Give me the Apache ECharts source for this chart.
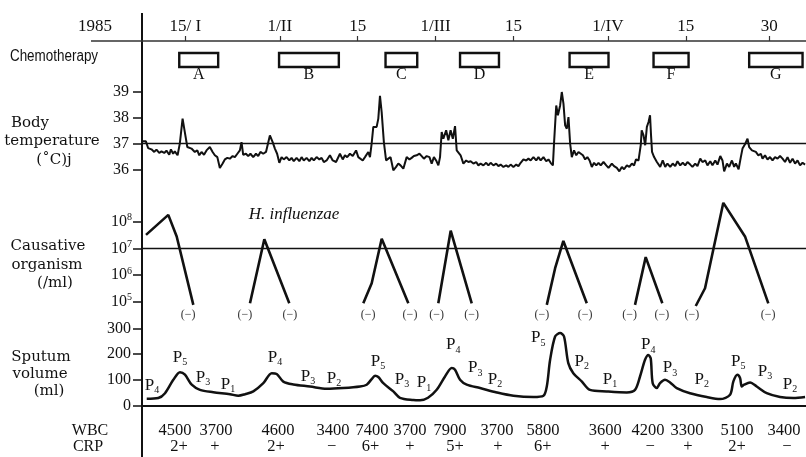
<!DOCTYPE html>
<html><head><meta charset="utf-8">
<script src="https://cdn.jsdelivr.net/npm/echarts@6/dist/echarts.min.js"></script>
<style>html,body{margin:0;padding:0;background:#fff}#c{width:806px;height:457px}</style>
</head><body><div id="c"></div>
<script>
// ---------------- DATA (x = day of 1985) ----------------
const dateTickDays = [15, 32, 46, 60, 74, 91, 105, 120];
const dateTickLabels = ['15/ I', '1/II', '15', '1/III', '15', '1/IV', '15', '30'];

const chemoCourses = ['A', 'B', 'C', 'D', 'E', 'F', 'G'];
const chemoStart = [13.9, 31.85, 51.0, 64.4, 84.1, 99.2, 116.4];
const chemoEnd   = [20.9, 42.6, 56.7, 71.4, 91.1, 105.5, 126.0];

const tempTicks = [36, 37, 38, 39];
const temperatureReadings = [
[7.3,37.09],[7.9,37.09],[8.3,36.83],[8.9,36.78],[9.4,36.68],[9.8,36.77],[10.3,36.64],[10.7,36.70],[11.2,36.64],[11.6,36.73],
[12.1,36.57],[12.4,36.78],[12.8,36.61],[13.1,36.70],[13.6,36.55],[14.0,37.0],[14.5,37.97],[14.9,37.45],[15.35,36.87],[15.7,36.94],
[16.1,36.81],[16.4,36.87],[16.7,36.68],[17.15,36.74],[17.5,36.55],[17.9,36.68],[18.35,36.57],[18.8,36.74],[19.4,36.87],[19.9,36.68],
[20.3,36.55],[20.75,36.48],[21.2,36.06],[21.7,36.23],[22.1,36.39],[22.55,36.45],[23.0,36.42],[23.5,36.52],[23.9,36.48],[24.35,36.61],
[24.8,36.74],[25.1,37.06],[25.4,36.57],[25.9,36.61],[26.3,36.52],[26.7,36.61],[27.2,36.48],[27.7,36.61],[28.1,36.52],[28.5,36.68],
[29.0,36.61],[29.5,36.68],[30.2,37.32],[30.7,37.06],[31.1,36.81],[31.5,36.61],[31.9,36.26],[32.3,36.48],[32.7,36.39],[33.2,36.48],
[33.7,36.35],[34.1,36.45],[34.5,36.32],[35.0,36.45],[35.5,36.32],[35.9,36.48],[36.3,36.35],[36.8,36.45],[37.3,36.32],[37.7,36.45],
[38.1,36.35],[38.6,36.48],[39.1,36.39],[39.5,36.45],[39.9,36.29],[40.4,36.35],[41.0,36.55],[41.5,36.35],[42.1,36.29],[42.8,36.61],
[43.3,36.39],[43.7,36.55],[44.1,36.48],[44.6,36.61],[45.1,36.52],[45.7,36.74],[46.1,36.48],
[46.4,36.42],[46.9,36.35],[47.3,36.48],[47.6,36.42],[47.9,36.68],[48.2,36.48],[48.5,37.0],[48.8,37.65],[49.4,37.65],[49.7,37.97],
[50.0,38.85],[50.3,38.23],[50.7,37.06],[51.1,36.35],[51.5,36.42],[51.9,36.48],[52.4,35.97],[52.9,36.10],[53.3,36.23],[53.7,36.16],
[54.2,36.03],[54.8,36.48],[55.3,36.39],[55.7,36.45],[56.1,36.52],[56.6,36.55],[57.1,36.61],[57.5,36.52],[57.9,36.42],[58.4,36.52],
[58.9,36.48],[59.3,36.23],[59.7,36.48],[60.1,36.35],[60.5,36.16],[60.8,36.48],[61.1,37.45],[61.4,37.19],[61.9,37.52],[62.3,37.13],
[62.7,37.52],[63.1,37.19],[63.5,37.68],[63.8,36.74],[64.1,36.68],[64.5,36.55],[65.0,36.23],[65.5,36.35],[65.9,36.29],[66.3,36.32],
[66.8,36.23],[67.3,36.29],[67.7,36.16],[68.1,36.23],[68.6,36.16],[69.1,36.26],[69.5,36.16],[69.9,36.26],[70.4,36.16],[70.9,36.23],
[71.3,36.13],[71.7,36.19],[72.2,36.10],[72.7,36.16],[73.1,36.10],[73.5,36.19],[74.0,36.10],[74.5,36.19],[74.9,36.13],[75.3,36.26],
[75.8,36.39],[76.3,36.35],[76.7,36.42],[77.1,36.35],[77.6,36.48],[78.1,36.35],[78.5,36.48],[78.9,36.35],[79.4,36.48],[79.9,36.32],
[80.3,36.39],[80.7,36.26],[81.1,36.16],[81.3,37.0],[81.7,38.48],[82.0,38.10],[82.4,38.48],[82.7,39.0],[83.0,38.55],[83.3,37.71],
[83.6,37.58],[83.9,38.03],[84.2,37.0],[84.5,36.48],[84.9,36.74],[85.3,36.55],[85.7,36.68],
[86.5,36.55],[86.9,36.39],[87.3,36.48],[87.7,36.35],[88.1,36.10],[88.5,36.26],[88.9,36.16],[89.3,36.26],[89.7,36.16],[90.2,36.29],
[90.7,36.16],[91.1,36.06],[91.7,36.23],[92.1,36.13],[92.6,36.06],[93.05,35.93],[93.5,36.10],[93.9,36.01],[94.4,36.16],[94.85,36.10],
[95.3,36.23],[95.7,36.16],[96.05,36.39],[96.5,36.35],[96.65,36.42],[96.9,36.94],[97.07,37.52],[97.4,37.32],[97.7,36.94],[98.0,37.65],
[98.3,37.84],[98.57,38.10],[98.75,37.32],[98.93,36.68],[99.3,36.48],[99.8,36.29],[100.4,36.10],[100.85,36.35],[101.3,36.10],[101.7,36.23],
[102.2,36.10],[102.65,36.23],[103.1,36.13],[103.5,36.32],[104.0,36.16],[104.45,36.26],[104.9,36.16],[105.3,36.29],[105.8,36.19],[106.2,36.10],
[106.7,36.23],[107.1,36.13],[107.6,36.42],[108.0,36.29],[108.5,36.35],[108.9,36.16],[109.4,36.32],[109.8,36.16],[110.3,36.35],[110.7,36.19],
[111.2,36.52],[111.6,36.35],[111.9,35.93],[112.4,36.23],[112.8,36.10],[113.3,36.35],[113.7,36.10],[114.0,36.23],[114.5,36.01],[114.9,36.48],
[115.2,36.81],[115.7,37.0],[116.1,37.19],[116.4,36.87],[116.9,36.74],[117.2,36.81],[117.6,36.68],[118.05,36.55],[118.5,36.61],[118.8,36.42],
[119.25,36.55],[119.7,36.39],[120.15,36.48],[120.6,36.35],[121.05,36.48],[121.5,36.42],[121.95,36.52],[122.4,36.42],[122.85,36.29],[123.3,36.48],
[123.75,36.26],[124.2,36.42],[124.65,36.23],[125.1,36.35],[125.55,36.16],[126.0,36.26],[126.45,36.19]
];

// H. influenzae counts (/ml), one array per episode
const organismEpisodes = [
  [[7.92, 3.2e7], [11.93, 1.8e8], [13.44, 2.8e7], [16.43, 7.6e4]],
  [[26.62, 8.7e4], [29.2, 2.2e7], [33.69, 8.7e4]],
  [[47.0, 8.7e4], [48.51, 4.9e5], [50.31, 2.3e7], [55.1, 8.7e4]],
  [[60.49, 8.7e4], [62.72, 4.6e7], [66.5, 8.7e4]],
  [[80.0, 7.6e4], [81.5, 1.8e6], [82.98, 1.9e7], [87.19, 8.7e4]],
  [[95.87, 7.6e4], [97.79, 4.7e6], [100.78, 8.7e4]],
  [[106.79, 6.9e4], [108.46, 3.2e5], [111.75, 5.1e8], [115.65, 2.8e7], [119.84, 8.7e4]]
];
const organismTicks = [1e5, 1e6, 1e7, 1e8];
const negativeCultureDays = [15.5, 25.7, 33.8, 47.85, 55.4, 60.2, 66.5, 79.1, 86.9, 94.9, 100.7, 106.1, 119.8];
const negativeCultureLevel = 3.2e4;

const sputumVolume = [
[8.05,26],[10.13,29],[11.34,48],[12.83,100],[14.03,130],[14.93,120],[16.14,81],[17.63,61],[20.02,52],[23.03,44],
[24.52,38],[25.73,44],[27.22,55],[29.02,87],[30.53,126],[31.43,123],[32.61,93],[34.41,82],[37.42,74],[40.42,65],
[43.41,68],[46.41,74],[47.61,81],[48.51,103],[49.11,116],[49.7,111],[50.6,87],[52.4,55],[53.6,30],[56.0,21],
[57.2,20],[58.64,30],[60.2,61],[61.7,113],[62.9,146],[63.5,139],[64.4,100],[65.6,81],[68.0,68],[71.0,51],
[74.0,38],[77.6,33],[79.4,38],[80.0,74],[80.6,178],[81.5,269],[82.4,282],[83.1,269],[83.87,165],[84.77,126],
[86.28,94],[87.77,61],[90.78,55],[94.38,51],[95.87,61],[96.77,113],[97.67,178],[98.26,197],[98.69,184],[99.05,87],
[99.77,68],[100.37,87],[101.27,100],[102.17,90],[103.37,68],[105.76,48],[108.77,33],[111.16,25],[112.96,42],[113.56,94],
[114.28,120],[114.76,107],[115.06,74],[115.48,81],[116.56,90],[117.76,74],[119.56,48],[121.96,33],[124.35,29],[126.45,33]
];
const sputumTicks = [0, 100, 200, 300];
// sputum grade annotations (P1-P5): anchor day, anchor ml, grade
const sputumGradeDays   = [9.0, 14.03, 18.17, 22.67, 31.12, 37.06, 41.73, 49.65, 53.96, 57.92, 63.19, 67.15, 70.69, 78.48, 86.28, 91.37, 98.26, 102.17, 107.87, 114.45, 119.26, 123.75];
const sputumGradeLevels = [77, 186, 108, 81, 186, 112, 104, 170, 100, 88, 236, 146, 100, 263, 171, 100, 236, 146, 100, 171, 132, 81];
const sputumGrades      = [4, 5, 3, 1, 4, 3, 2, 5, 3, 1, 4, 3, 2, 5, 2, 1, 4, 3, 2, 5, 3, 2];

const wbcDays   = [13.13, 20.5, 31.66, 41.55, 48.57, 55.4, 62.6, 71.05, 79.3, 90.5, 98.2, 105.2, 114.2, 122.65];
const wbcCounts = [4500, 3700, 4600, 3400, 7400, 3700, 7900, 3700, 5800, 3600, 4200, 3300, 5100, 3400];
const crpDays   = [13.85, 20.32, 31.3, 41.3, 48.3, 55.4, 63.5, 71.2, 79.3, 90.5, 98.6, 105.4, 114.2, 123.2];
const crpGrades = ['2+', '+', '2+', '−', '6+', '+', '5+', '+', '6+', '+', '−', '+', '2+', '−'];

// ---------------- CHART ----------------
const SERIF = "'Liberation Serif', 'Times New Roman', serif";
const DSERIF = "'DejaVu Serif', serif";
const SANS = "'Liberation Sans', Arial, sans-serif";
const INK = '#111';
const X_MIN = 7.2, X_MAX = 126.62;

const chart = echarts.init(document.getElementById('c'), null, {renderer: 'canvas'});

const gridBase = {left: 142, right: 0, containLabel: false, outerBoundsMode: 'none', show: false};
const grids = [
  Object.assign({top: 41, height: 40}, gridBase),
  Object.assign({top: 92, height: 77.5}, gridBase),
  Object.assign({top: 221.7, height: 80}, gridBase),
  Object.assign({top: 328.5, height: 77}, gridBase),
  Object.assign({top: 431, height: 16}, gridBase)
];

const hiddenX = i => ({type: 'value', gridIndex: i, min: X_MIN, max: X_MAX, show: false});
const xAxes = [
  {type: 'value', gridIndex: 0, position: 'top', min: X_MIN, max: X_MAX,
   axisLine: {show: true, onZero: false, lineStyle: {color: '#333', width: 1.5}},
   axisTick: {show: true, customValues: dateTickDays, length: 5, inside: false, lineStyle: {color: '#333', width: 1.2}},
   axisLabel: {show: true, customValues: dateTickDays, margin: 6, color: INK, fontFamily: SERIF, fontSize: 17,
     formatter: v => { const k = dateTickDays.indexOf(v); return k >= 0 ? dateTickLabels[k] : ''; }},
   splitLine: {show: false}},
  hiddenX(1), hiddenX(2),
  {type: 'value', gridIndex: 3, min: X_MIN, max: X_MAX, position: 'bottom',
   axisLine: {show: true, onZero: true, lineStyle: {color: INK, width: 2}},
   axisTick: {show: false}, axisLabel: {show: false}, splitLine: {show: false}},
  hiddenX(4)
];

const tickAxis = (i, extra) => Object.assign({
  gridIndex: i, axisLine: {show: false},
  axisTick: {show: true, length: 9, lineStyle: {color: INK, width: 1.5}},
  splitLine: {show: false}
}, extra);

const yAxes = [
  {type: 'value', gridIndex: 0, min: 0, max: 1, show: false},
  tickAxis(1, {type: 'value', min: 36, max: 39, interval: 1,
    axisLabel: {margin: 13, color: INK, fontFamily: SERIF, fontSize: 16}}),
  tickAxis(2, {type: 'log', logBase: 10, min: 1e5, max: 1e8,
    axisLabel: {margin: 10, color: INK,
      formatter: v => '{b|10}{s|' + Math.round(Math.log10(v)) + '}',
      rich: {b: {fontFamily: SERIF, fontSize: 16, lineHeight: 18, color: INK},
             s: {fontFamily: SERIF, fontSize: 10, lineHeight: 10, verticalAlign: 'top', color: INK}}}}),
  tickAxis(3, {type: 'value', min: 0, max: 300, interval: 100,
    axisLabel: {margin: 11, color: INK, fontFamily: SERIF, fontSize: 16}}),
  {type: 'value', gridIndex: 4, min: 0, max: 1, show: false}
];

const series = [];

// chemotherapy courses
series.push({
  type: 'custom', xAxisIndex: 0, yAxisIndex: 0, silent: true,
  data: chemoCourses.map((c, i) => [chemoStart[i], chemoEnd[i]]),
  encode: {x: [0, 1]},
  renderItem: (params, api) => {
    const p0 = api.coord([api.value(0), 0.7]);
    const p1 = api.coord([api.value(1), 0.35]);
    const pt = api.coord([(api.value(0) + api.value(1)) / 2, 0.15]);
    return {type: 'group', children: [
      {type: 'rect', shape: {x: p0[0], y: p0[1], width: p1[0] - p0[0], height: p1[1] - p0[1]},
       style: {fill: '#fff', stroke: INK, lineWidth: 2.4}},
      {type: 'text', x: pt[0], y: pt[1],
       style: {text: chemoCourses[params.dataIndex], fill: INK, font: '16px ' + SERIF, align: 'center', verticalAlign: 'middle'}}
    ]};
  }
});

// body temperature
series.push({
  type: 'line', xAxisIndex: 1, yAxisIndex: 1, data: temperatureReadings, symbol: 'none',
  clip: false, silent: true, lineStyle: {color: INK, width: 2},
  markLine: {silent: true, symbol: ['none', 'none'], label: {show: false},
    lineStyle: {color: INK, width: 1.3, type: 'solid'}, data: [{yAxis: 37}]}
});

// causative organism
organismEpisodes.forEach((ep, k) => {
  const s = {type: 'line', xAxisIndex: 2, yAxisIndex: 2, data: ep, symbol: 'none', clip: false, silent: true,
    lineStyle: {color: INK, width: 2.6}};
  if (k === 0) s.markLine = {silent: true, symbol: ['none', 'none'], label: {show: false},
    lineStyle: {color: INK, width: 1.3, type: 'solid'}, data: [{yAxis: 1e7}]};
  series.push(s);
});
series.push({
  type: 'custom', xAxisIndex: 2, yAxisIndex: 2, silent: true,
  data: negativeCultureDays.map(d => [d, negativeCultureLevel]),
  renderItem: (params, api) => {
    const p = api.coord([api.value(0), api.value(1)]);
    return {type: 'text', x: p[0], y: p[1],
      style: {text: '(−)', fill: '#333', font: '12px ' + SERIF, align: 'center', verticalAlign: 'middle'}};
  }
});

// sputum volume
series.push({
  type: 'line', xAxisIndex: 3, yAxisIndex: 3, data: sputumVolume, symbol: 'none', smooth: 0.3,
  clip: false, silent: true, lineStyle: {color: INK, width: 2.5}
});
series.push({
  type: 'custom', xAxisIndex: 3, yAxisIndex: 3, silent: true,
  data: sputumGradeDays.map((d, i) => [d, sputumGradeLevels[i]]),
  renderItem: (params, api) => {
    const p = api.coord([api.value(0), api.value(1)]);
    return {type: 'text', x: p[0], y: p[1],
      style: {text: '{p|P}{s|' + sputumGrades[params.dataIndex] + '}', align: 'center', verticalAlign: 'middle',
        rich: {p: {fontFamily: SERIF, fontSize: 17, lineHeight: 20, fill: INK},
               s: {fontFamily: SERIF, fontSize: 10, lineHeight: 10, verticalAlign: 'bottom', fill: INK}}}};
  }
});

// WBC and CRP rows
const textRow = (days, texts, level) => ({
  type: 'custom', xAxisIndex: 4, yAxisIndex: 4, silent: true,
  data: days.map(d => [d, level]),
  renderItem: (params, api) => {
    const p = api.coord([api.value(0), api.value(1)]);
    return {type: 'text', x: p[0], y: p[1],
      style: {text: String(texts[params.dataIndex]), fill: INK, font: '16.5px ' + SERIF, align: 'center', verticalAlign: 'middle'}};
  }
});
series.push(textRow(wbcDays, wbcCounts, 1));
series.push(textRow(crpDays, crpGrades, 0));

const txt = (text, x, y, font, extra) => Object.assign({type: 'text', x: x, y: y, silent: true,
  style: {text: text, fill: INK, font: font, align: 'center', verticalAlign: 'middle'}}, extra || {});

const graphic = [
  {type: 'line', silent: true, shape: {x1: 142, y1: 13, x2: 142, y2: 457}, style: {stroke: INK, lineWidth: 2}},
  {type: 'line', silent: true, shape: {x1: 91, y1: 41, x2: 142, y2: 41}, style: {stroke: '#333', lineWidth: 1.5}},
  txt('1985', 95, 27, '17px ' + SERIF),
  txt('Chemotherapy', 54, 57, '16px ' + SANS, {scaleX: 0.84}),
  txt('Body', 30, 123, '15px ' + DSERIF),
  txt('temperature', 52, 141, '15px ' + DSERIF),
  txt('(˚C)j', 54, 160, '15px ' + DSERIF),
  txt('Causative', 48, 246, '15px ' + DSERIF),
  txt('organism', 47, 265, '15px ' + DSERIF),
  txt('(/ml)', 55, 283, '15px ' + DSERIF),
  txt('Sputum', 41, 357, '15px ' + DSERIF),
  txt('volume', 40, 374, '15px ' + DSERIF),
  txt('(ml)', 49, 391, '15px ' + DSERIF),
  txt('WBC', 90, 431, '16px ' + SERIF),
  txt('CRP', 88, 447, '16px ' + SERIF),
  txt('H. influenzae', 294, 215, 'italic 17px ' + SERIF)
];

chart.setOption({
  backgroundColor: '#fff',
  animation: false,
  grid: grids,
  xAxis: xAxes,
  yAxis: yAxes,
  series: series,
  graphic: graphic
});
</script>
</body></html>
